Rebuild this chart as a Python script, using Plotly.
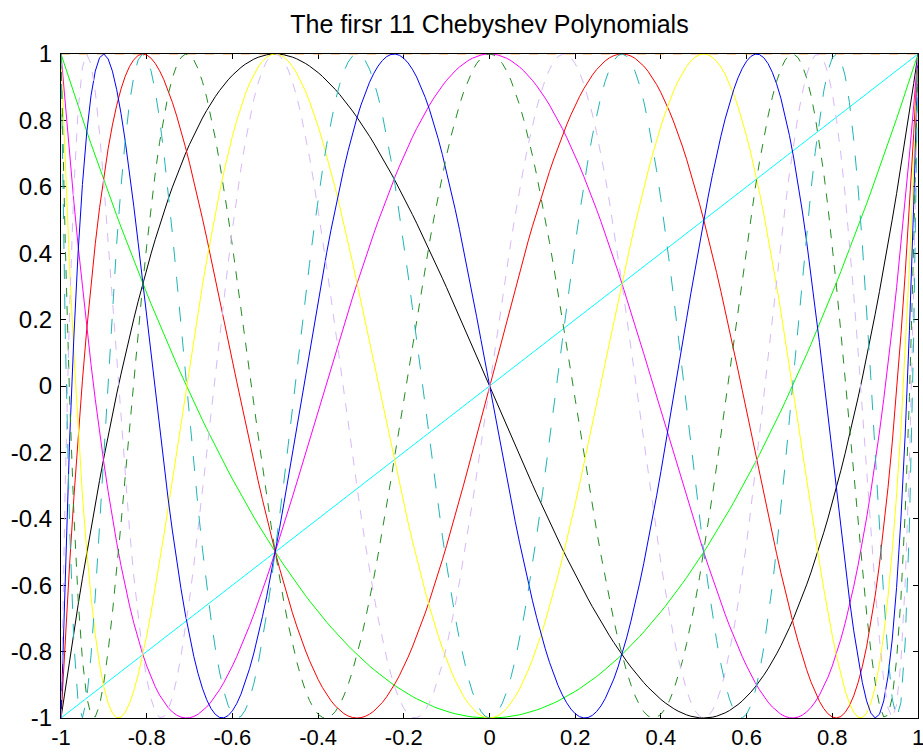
import numpy as np
import plotly.graph_objects as go

# Degrees of the Chebyshev polynomials T_0 ... T_10 and their line styles
degrees = list(range(11))
colors = ["#F5A458", "#00FFFF", "#00FF00", "#000000", "#FF00FF", "#FF0000",
          "#FFFF00", "#0000FF", "#228B22", "#D8B8F8", "#1FB5B5"]
dashes = ["dash", "solid", "solid", "solid", "solid", "solid",
          "solid", "solid", "dash", "dash", "longdash"]

# Sample grid on [-1, 1]
x = np.round(np.arange(-1.0, 1.0001, 0.01), 10)
tick_vals = [-1, -0.8, -0.6, -0.4, -0.2, 0, 0.2, 0.4, 0.6, 0.8, 1]
tick_text = ["-1", "-0.8", "-0.6", "-0.4", "-0.2", "0", "0.2", "0.4", "0.6", "0.8", "1"]

# Three-term recurrence: T_{n+1} = 2x T_n - T_{n-1}
T = [np.ones_like(x), x.copy()]
for n in range(2, len(degrees)):
    T.append(2 * x * T[n - 1] - T[n - 2])

fig = go.Figure()
for n in degrees:
    fig.add_trace(go.Scatter(
        x=x, y=T[n], mode="lines", name=f"T{n}",
        line=dict(color=colors[n], width=1, dash=dashes[n]),
        showlegend=False, hoverinfo="skip",
    ))

axis_common = dict(
    range=[-1, 1], tickvals=tick_vals, ticktext=tick_text,
    ticks="inside", ticklen=5, tickwidth=1, tickcolor="black",
    showline=True, linecolor="black", linewidth=1, mirror="allticks",
    showgrid=False, zeroline=False, layer="below traces",
    ticklabeloverflow="allow", automargin=False,
)

fig.update_layout(
    width=923, height=753,
    margin=dict(l=61, r=5, t=54, b=35),
    paper_bgcolor="white", plot_bgcolor="white",
    title=dict(text="The firsr 11 Chebyshev Polynomials",
               x=(61 + 918) / 2 / 923, xanchor="center", y=1 - 24 / 753, yanchor="middle",
               font=dict(family="Liberation Sans, Arial", size=25, color="black")),
    xaxis=dict(**axis_common, ticklabelstandoff=0,
               tickfont=dict(family="Liberation Sans, Arial", size=22, color="black")),
    yaxis=dict(**axis_common, ticklabelstandoff=3,
               tickfont=dict(family="Liberation Sans, Arial", size=24, color="black")),
)

fig.write_html("out.html")
